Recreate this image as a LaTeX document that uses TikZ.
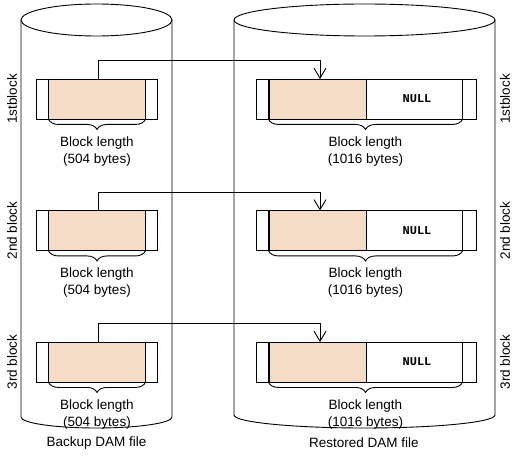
\documentclass[tikz,border=0pt]{standalone}
\usepackage{fontspec}
\setmainfont{Liberation Sans}
\newfontfamily\monofont{Liberation Mono}
\usetikzlibrary{arrows.meta,decorations.pathreplacing}
\definecolor{peach}{HTML}{F4DCC7}
\tikzset{
  line/.style={draw=black,line width=0.9pt},
  outerbox/.style={line,rectangle,inner sep=0pt,minimum height=40pt},
  lbox/.style={outerbox,minimum width=121pt},
  rbox/.style={outerbox,minimum width=220pt},
  lbl/.style={font=\fontsize{13.5}{17}\selectfont,align=center,inner sep=0pt},
  sidelbl/.style={font=\fontsize{13.5}{15}\selectfont,rotate=90,inner sep=0pt},
  nulltxt/.style={font=\monofont\bfseries\fontsize{12}{13}\selectfont,inner sep=0pt},
  brc/.style={line,decorate,decoration={brace,mirror,amplitude=10pt}},
  flow/.style={line,-{Straight Barb[length=10pt,width=12pt,line width=0.9pt]}},
}
\begin{document}
\begin{tikzpicture}[x=1pt,y=-1pt]
\useasboundingbox (0,0) rectangle (517,457);
% cylinders
\draw[line] (96.5,20) ellipse [x radius=75.5,y radius=16];
\draw[line] (21,20) -- (21,417) arc[start angle=180,end angle=360,x radius=75.5,y radius=-11] -- (172,20);
\draw[line] (364.5,20) ellipse [x radius=130.5,y radius=16];
\draw[line] (234,20) -- (234,415) arc[start angle=180,end angle=360,x radius=130.5,y radius=-13] -- (495,20);
% blocks
\foreach \r/\dy/\nm/\nmb in {1/0/1stblock/1stblock,2/131.5/2nd block/2nd block,3/263/3rd block/3rd block}{
  \node[lbox] (L\r) at (96.5,99+\dy) {};
  \fill[peach] ([xshift=13pt]L\r.south west) rectangle ([xshift=-12pt]L\r.north east);
  \draw[line] ([xshift=13pt]L\r.south west) -- ([xshift=13pt]L\r.north west)
              ([xshift=-12pt]L\r.south east) -- ([xshift=-12pt]L\r.north east);
  \node[lbox] at (L\r) {};
  \node[rbox] (R\r) at (366,99+\dy) {};
  \fill[peach] ([xshift=13pt]R\r.south west) rectangle ([xshift=111pt]R\r.north west);
  \draw[line] ([xshift=111pt]R\r.south west) -- ([xshift=111pt]R\r.north west)
              ([xshift=-14pt]R\r.south east) -- ([xshift=-14pt]R\r.north east);
  \draw[line width=2pt] ([xshift=13pt]R\r.south west) -- ([xshift=13pt]R\r.north west);
  \node[rbox] at (R\r) {};
  \node[nulltxt] (N\r) at ([xshift=51pt]R\r.center) {NULL};
  % braces
  \draw[brc] ([xshift=13pt]L\r.south west) -- coordinate[pos=0.5,yshift=-10pt] (bl\r) ([xshift=-12pt]L\r.south east);
  \node[lbl,anchor=north] (tl\r) at ([yshift=-7pt]bl\r) {Block length\\(504 bytes)};
  \draw[brc] ([xshift=13pt]R\r.south west) -- coordinate[pos=0.5,yshift=-10pt] (br\r) ([xshift=-14pt]R\r.south east);
  \node[lbl,anchor=north] (tr\r) at ([yshift=-7pt]br\r) {Block length\\(1016 bytes)};
  % side labels
  \node[sidelbl] (sl\r) at (12,99+\dy) {\nm};
  \node[sidelbl] (sr\r) at (505,99+\dy) {\nmb};
  % flow arrow
  \coordinate (a\r) at ([xshift=1.5pt]L\r.north);
  \coordinate (b\r) at (320,79+\dy);
  \draw[flow] (a\r) -- ++(0,-18) -| (b\r);
}
\node[lbl] (capL) at (96.5,443) {Backup DAM file};
\node[lbl] (capR) at (364,443) {Restored DAM file};
\end{tikzpicture}
\end{document}
